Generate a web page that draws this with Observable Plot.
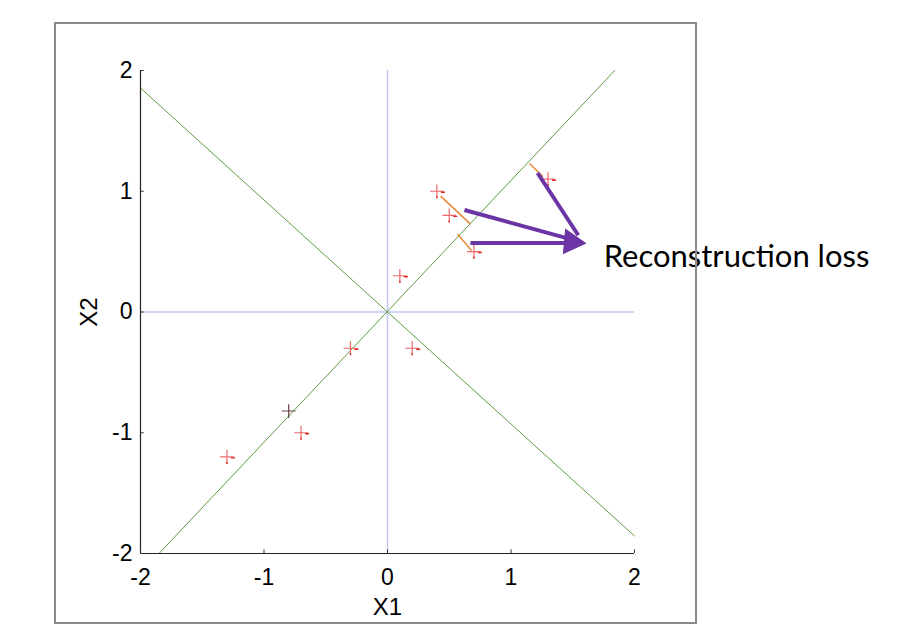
<!DOCTYPE html>
<html>
<head>
<meta charset="utf-8">
<script src="https://cdn.jsdelivr.net/npm/d3@7"></script>
<script src="https://cdn.jsdelivr.net/npm/@observablehq/plot@0.6"></script>
<style>
  html, body { margin: 0; padding: 0; background: #fff; }
  #wrap { position: relative; width: 918px; height: 632px; }
  #frame { position: absolute; left: 54px; top: 22px; width: 639px; height: 598px; border: 2px solid #8a8a8a; pointer-events: none; }
  #chart { position: absolute; left: 0; top: 0; }
</style>
</head>
<body>
<div id="wrap"><div id="chart"></div><div id="frame"></div></div>
<script>
// ---- data ----
const ptX = [0.4, 0.5, 0.7, 1.3, 0.1, -0.3, 0.2, -0.7, -1.3];
const ptY = [1.0, 0.8, 0.5, 1.1, 0.3, -0.3, -0.3, -1.0, -1.2];
const darkX = [-0.8];
const darkY = [-0.82];
// principal directions (end points)
const pc1X = [-1.85, 1.84];
const pc1Y = [-2, 2];
const pc2X = [-2, 2];
const pc2Y = [1.855, -1.855];
// projection segments (point side -> line side)
const projX1 = [0.43, 0.567, 1.15];
const projY1 = [0.96, 0.646, 1.23];
const projX2 = [0.67, 0.68, 1.26];
const projY2 = [0.73, 0.51, 1.12];
// annotation arrows
const arrX1 = [0.623, 0.672, 1.215];
const arrY1 = [0.845, 0.571, 1.151];
const arrX2 = [1.595, 1.595, 1.58];
const arrY2 = [0.571, 0.571, 0.58];
const headX = [1.595];
const headY = [0.571];
const noteLabel = ["Reconstruction loss"];
const noteX = [1.75];
const noteY = [0.455];
const xTicks = [-2, -1, 0, 1, 2];
const yTicks = [-2, -1, 0, 1, 2];
const xLabel = "X1";
const yLabel = "X2";

// ---- tables ----
const pts = ptX.map((x, i) => ({x, y: ptY[i]}));
const dark = darkX.map((x, i) => ({x, y: darkY[i]}));
const pc1 = pc1X.map((x, i) => ({x, y: pc1Y[i]}));
const pc2 = pc2X.map((x, i) => ({x, y: pc2Y[i]}));
const proj = projX1.map((x1, i) => ({x1, y1: projY1[i], x2: projX2[i], y2: projY2[i]}));
const arrows = arrX1.map((x1, i) => ({x1, y1: arrY1[i], x2: arrX2[i], y2: arrY2[i]}));
const heads = headX.map((x, i) => ({x, y: headY[i]}));
const notes = noteLabel.map((t, i) => ({t, x: noteX[i], y: noteY[i]}));

const dash = { draw(ctx) { ctx.moveTo(4, 1); ctx.lineTo(8, 1); ctx.moveTo(0, 5); ctx.lineTo(0, 7); } };

const purple = "#6b35a6";
const font = "'Liberation Sans', Arial, sans-serif";

const chart = Plot.plot({
  width: 918,
  height: 632,
  marginLeft: 140,
  marginRight: 284,
  marginTop: 70,
  marginBottom: 79,
  style: { fontFamily: font, background: "transparent" },
  x: { domain: [-2, 2], axis: null },
  y: { domain: [-2, 2], axis: null },
  marks: [
    // blue zero axes
    Plot.ruleX([0], { y1: -2, y2: 2, stroke: "#c6c6f6", strokeWidth: 1.5 }),
    Plot.ruleY([0], { x1: -2, x2: 2, stroke: "#c6c6f6", strokeWidth: 1.5 }),
    // principal directions
    Plot.line(pc1, { x: "x", y: "y", stroke: "#5b9b46", strokeWidth: 1 }),
    Plot.line(pc2, { x: "x", y: "y", stroke: "#5b9b46", strokeWidth: 1 }),
    // projection segments
    Plot.link(proj, { x1: "x1", y1: "y1", x2: "x2", y2: "y2", stroke: "#e8893a", strokeWidth: 1.5 }),
    // points
    Plot.dot(pts, { x: "x", y: "y", symbol: "plus", r: 4.5, stroke: "#f06a6a", strokeWidth: 1.2 }),
    Plot.dot(pts, { x: "x", y: "y", symbol: dash, r: 5, stroke: "#e02525", strokeWidth: 1.4 }),
    Plot.dot(dark, { x: "x", y: "y", symbol: "plus", r: 4.5, stroke: "#6a4040", strokeWidth: 1.2 }),
    // axes lines and ticks
    Plot.ruleX([-2], { y1: -2, y2: 2, stroke: "#222", strokeWidth: 1.2 }),
    Plot.ruleY([-2], { x1: -2, x2: 2, stroke: "#222", strokeWidth: 1.2 }),
    Plot.ruleX(xTicks, { x: d => d, y1: -2, y2: -1.97, stroke: "#333" }),
    Plot.ruleY(yTicks, { y: d => d, x1: -2, x2: -1.97, stroke: "#333" }),
    Plot.text(xTicks, { x: d => d, y: -2, dy: 24, text: d => String(d), lineAnchor: "middle", fontSize: 23, fill: "#000" }),
    Plot.text(yTicks, { x: -2, y: d => d, dx: -8, text: d => String(d), textAnchor: "end", lineAnchor: "middle", fontSize: 23, fill: "#000" }),
    Plot.text([xLabel], { frameAnchor: "bottom", dy: 54, lineAnchor: "middle", fontSize: 24, fill: "#000" }),
    Plot.text([yLabel], { frameAnchor: "left", dx: -51, rotate: -90, textAnchor: "middle", lineAnchor: "middle", fontSize: 24, fill: "#000" }),
    // annotation arrows
    Plot.arrow(arrows, { x1: "x1", y1: "y1", x2: "x2", y2: "y2", stroke: purple, strokeWidth: 4, headLength: 0, insetEnd: 8, strokeLinecap: "butt" }),
    Plot.dot(heads, { x: "x", y: "y", symbol: "triangle", r: 9, rotate: 95, dx: -13, dy: -1, fill: purple, stroke: purple, strokeWidth: 1 }),
    Plot.text(notes, { x: "x", y: "y", text: "t", textAnchor: "start", lineAnchor: "middle", fontSize: 31, fontFamily: "Lato, 'Open Sans', sans-serif", fill: "#000" })
  ]
});
document.getElementById("chart").appendChild(chart);
</script>
</body>
</html>
